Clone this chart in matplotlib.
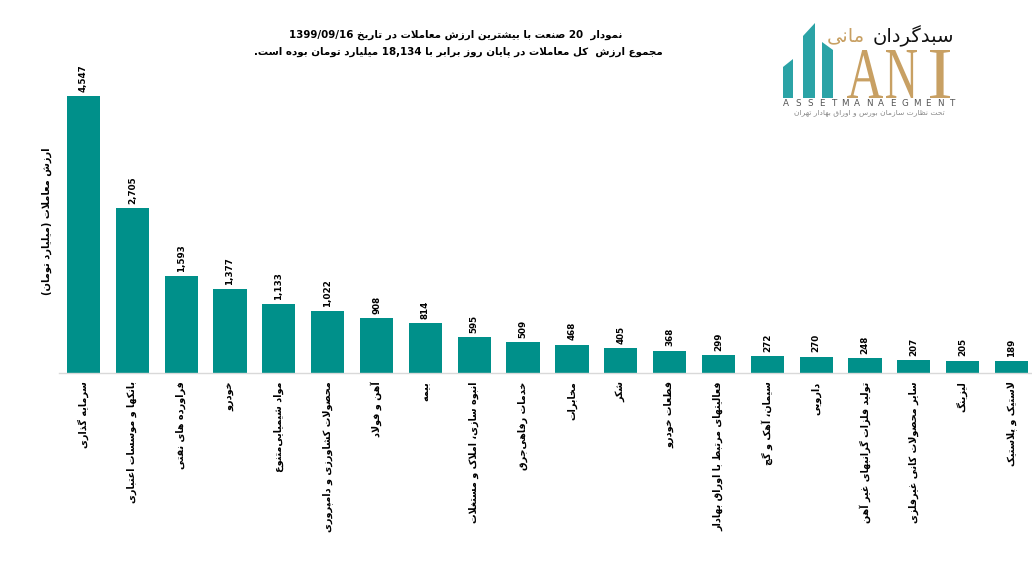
import re
import matplotlib
matplotlib.use("Agg")
import matplotlib.pyplot as plt
from matplotlib.patches import Polygon, PathPatch
from matplotlib.textpath import TextPath
from matplotlib.font_manager import FontProperties
from matplotlib.transforms import Affine2D
import numpy as np

# ---------------- data ----------------
categories = [
    "سرمایه گذاری",
    "بانکها و موسسات اعتباری",
    "فراورده های نفتی",
    "خودرو",
    "مواد شیمیایی\u200cمتنوع",
    "محصولات کشاورزی و دامپروری",
    "آهن و فولاد",
    "بیمه",
    "انبوه سازی، املاک و مستغلات",
    "خدمات رفاهی\u200cجرق",
    "مخابرات",
    "شکر",
    "قطعات خودرو",
    "فعالیتهای مرتبط با اوراق بهادار",
    "سیمان، آهک و گچ",
    "دارویی",
    "تولید فلزات گرانبهای غیر آهن",
    "سایر محصولات کانی غیرفلزی",
    "لیزینگ",
    "لاستیک و پلاستیک",
]
values = [4547, 2705, 1593, 1377, 1133, 1022, 908, 814, 595, 509,
          468, 405, 368, 299, 272, 270, 248, 207, 205, 189]
value_labels = [f"{v:,}" for v in values]

title_line1 = "نمودار  20 صنعت با بیشترین ارزش معاملات در تاریخ 1399/09/16"
title_line2 = "مجموع ارزش  کل معاملات در پایان روز برابر با 18,134 میلیارد تومان بوده است."
y_label = "ارزش معاملات (میلیارد تومان)"
logo_fa_black = "سبدگردان"
logo_fa_gold = "مانی"
logo_sub = "تحت نظارت سازمان بورس و اوراق بهادار تهران"
logo_en = "ASSETMANAEGMENT"

# ---------------- minimal Persian shaping + bidi ----------------
_F = {
    'ا': (0xFE8D, 0xFE8E, None, None), 'آ': (0xFE81, 0xFE82, None, None),
    'ب': (0xFE8F, 0xFE90, 0xFE91, 0xFE92), 'پ': (0xFB56, 0xFB57, 0xFB58, 0xFB59),
    'ت': (0xFE95, 0xFE96, 0xFE97, 0xFE98), 'ث': (0xFE99, 0xFE9A, 0xFE9B, 0xFE9C),
    'ج': (0xFE9D, 0xFE9E, 0xFE9F, 0xFEA0), 'چ': (0xFB7A, 0xFB7B, 0xFB7C, 0xFB7D),
    'ح': (0xFEA1, 0xFEA2, 0xFEA3, 0xFEA4), 'خ': (0xFEA5, 0xFEA6, 0xFEA7, 0xFEA8),
    'د': (0xFEA9, 0xFEAA, None, None), 'ذ': (0xFEAB, 0xFEAC, None, None),
    'ر': (0xFEAD, 0xFEAE, None, None), 'ز': (0xFEAF, 0xFEB0, None, None),
    'ژ': (0xFB8A, 0xFB8B, None, None),
    'س': (0xFEB1, 0xFEB2, 0xFEB3, 0xFEB4), 'ش': (0xFEB5, 0xFEB6, 0xFEB7, 0xFEB8),
    'ص': (0xFEB9, 0xFEBA, 0xFEBB, 0xFEBC), 'ض': (0xFEBD, 0xFEBE, 0xFEBF, 0xFEC0),
    'ط': (0xFEC1, 0xFEC2, 0xFEC3, 0xFEC4), 'ظ': (0xFEC5, 0xFEC6, 0xFEC7, 0xFEC8),
    'ع': (0xFEC9, 0xFECA, 0xFECB, 0xFECC), 'غ': (0xFECD, 0xFECE, 0xFECF, 0xFED0),
    'ف': (0xFED1, 0xFED2, 0xFED3, 0xFED4), 'ق': (0xFED5, 0xFED6, 0xFED7, 0xFED8),
    'ک': (0xFB8E, 0xFB8F, 0xFB90, 0xFB91), 'گ': (0xFB92, 0xFB93, 0xFB94, 0xFB95),
    'ل': (0xFEDD, 0xFEDE, 0xFEDF, 0xFEE0), 'م': (0xFEE1, 0xFEE2, 0xFEE3, 0xFEE4),
    'ن': (0xFEE5, 0xFEE6, 0xFEE7, 0xFEE8), 'و': (0xFEED, 0xFEEE, None, None),
    'ه': (0xFEE9, 0xFEEA, 0xFEEB, 0xFEEC), 'ی': (0xFBFC, 0xFBFD, 0xFBFE, 0xFBFF),
    'ئ': (0xFE89, 0xFE8A, 0xFE8B, 0xFE8C),
}
_LAM_ALEF = {'ا': (0xFEFB, 0xFEFC), 'آ': (0xFEF5, 0xFEF6)}


def _dual(c):
    return c in _F and _F[c][2] is not None


def shape(s):
    out = []
    i = 0
    n = len(s)
    while i < n:
        c = s[i]
        if c not in _F:
            if c != '\u200c':
                out.append(c)
            i += 1
            continue
        prev = s[i - 1] if i > 0 else ''
        jp = _dual(prev)
        if c == 'ل' and i + 1 < n and s[i + 1] in _LAM_ALEF:
            iso, fin = _LAM_ALEF[s[i + 1]]
            out.append(chr(fin if jp else iso))
            i += 2
            continue
        nxt = s[i + 1] if i + 1 < n else ''
        jn = _dual(c) and nxt in _F
        f = _F[c]
        if jp and jn:
            out.append(chr(f[3]))
        elif jp:
            out.append(chr(f[1]))
        elif jn:
            out.append(chr(f[2]))
        else:
            out.append(chr(f[0]))
        i += 1
    return ''.join(out)


_LTR = re.compile(r'[0-9A-Za-z]+(?:[/,.:][0-9A-Za-z]+)*')
_MIRROR = {'(': ')', ')': '('}


def fa(s):
    s = shape(s)
    runs = []
    pos = 0
    for m in _LTR.finditer(s):
        if m.start() > pos:
            runs.append((False, s[pos:m.start()]))
        runs.append((True, m.group()))
        pos = m.end()
    if pos < len(s):
        runs.append((False, s[pos:]))
    vis = []
    for ltr, t in reversed(runs):
        if ltr:
            vis.append(t)
        else:
            vis.append(''.join(_MIRROR.get(ch, ch) for ch in reversed(t)))
    return ''.join(vis)


# ---------------- figure ----------------
W, H = 1032, 582
fig = plt.figure(figsize=(W / 100, H / 100), dpi=100)
fig.patch.set_facecolor('white')

FONT = 'DejaVu Sans'
TEAL = '#00908A'
GOLD = '#C8A063'

ax_left, ax_right = 59, 1036
ax_bottom, ax_top = 373, 68.6
ax = fig.add_axes([ax_left / W, 1 - ax_bottom / H,
                   (ax_right - ax_left) / W, (ax_bottom - ax_top) / H])

x = np.arange(len(categories))
bars = ax.bar(x, values, width=0.68, color=TEAL, zorder=2)
ax.set_xlim(-0.5, len(categories) - 0.5)
ax.set_ylim(0, 5000)

for s in ['top', 'right', 'left']:
    ax.spines[s].set_visible(False)
ax.spines['bottom'].set_color('#D9D9D9')
ax.spines['bottom'].set_linewidth(1.0)
ax.set_yticks([])
ax.set_xticks(x)
ax.set_xticklabels([fa(c) for c in categories], rotation=90, fontsize=6.9,
                   fontweight='bold', family=FONT, ha='center', va='top')
ax.tick_params(axis='x', length=0, pad=6)

for xi, v, lab in zip(x, values, value_labels):
    ax.annotate(lab, (xi, v), xytext=(0, 3), textcoords='offset points',
                rotation=90, ha='center', va='bottom', fontsize=6.3,
                fontweight='bold', family=FONT)

# y-axis title
fig.text(47 / W, 1 - 221 / H, fa(y_label), rotation=90, ha='center', va='center',
         fontsize=7.1, fontweight='bold', family=FONT)

# chart title
fig.text(456 / W, 1 - 35 / H, fa(title_line1), ha='center', va='center',
         fontsize=7.4, fontweight='bold', family=FONT)
fig.text(458 / W, 1 - 52 / H, fa(title_line2), ha='center', va='center',
         fontsize=7.4, fontweight='bold', family=FONT)

# ---------------- logo ----------------
def px(xp, yp):
    return (xp / W, 1 - yp / H)

to_fig = Affine2D().scale(1 / W, 1 / H) + fig.transFigure

for poly in [
    [(783, 98), (783, 67), (793, 59), (793, 98)],
    [(803, 98), (803, 36), (815, 23), (815, 98)],
    [(822, 98), (822, 42), (833, 50), (833, 98)],
]:
    fig.patches.append(Polygon([(a, H - b) for a, b in poly], closed=True,
                               transform=to_fig, facecolor='#2BA3A6',
                               edgecolor='none'))

serif = FontProperties(family='Liberation Serif')
for ch, x0, x1 in [('A', 847, 883), ('N', 886, 917), ('I', 930, 950)]:
    tp = TextPath((0, 0), ch, size=100, prop=serif)
    ext = tp.get_extents()
    sx = (x1 - x0) / ext.width
    sy = (98 - 50) / ext.height
    tr = Affine2D().translate(-ext.x0, -ext.y0).scale(sx, sy).translate(x0, H - 98)
    fig.patches.append(PathPatch(tr.transform_path(tp), transform=to_fig,
                                 facecolor=GOLD, edgecolor='none'))

fig.text(*px(913, 36), fa(logo_fa_black), ha='center', va='center', fontsize=14,
         family=FONT, color='#111111')
fig.text(*px(846, 36), fa(logo_fa_gold), ha='center', va='center', fontsize=14,
         family=FONT, color=GOLD)
for k, ch in enumerate(logo_en):
    xp = 786 + k * (952 - 786) / (len(logo_en) - 1)
    fig.text(*px(xp, 103), ch, ha='center', va='center', fontsize=6.3,
             family=FONT, color='#555555')
fig.text(*px(869, 113), fa(logo_sub), ha='center', va='center', fontsize=5.4,
         family=FONT, color='#888888')

fig.savefig('out.png', dpi=100)
